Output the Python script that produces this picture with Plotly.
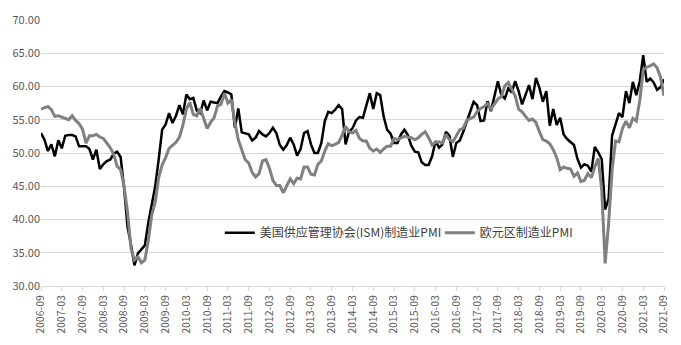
import pandas as pd
import plotly.graph_objects as go

# Monthly periods, 2006-09 .. 2021-09
months = [d.strftime("%Y-%m") for d in pd.date_range("2006-09-01", "2021-09-01", freq="MS")]
tick_labels = months[::6]

# ISM manufacturing PMI (US)
ism_pmi = [
    53.0, 52.0, 50.3, 51.3,
    49.5, 51.9, 50.7, 52.6, 52.7, 52.7, 52.5, 51.0, 51.0, 51.0, 50.6, 49.0,
    50.5, 47.6, 48.3, 48.8, 49.0, 49.9, 50.2, 49.4, 44.8, 38.9, 36.2, 33.1,
    34.9, 35.5, 36.1, 39.5, 42.5, 45.0, 49.0, 53.5, 54.3, 56.0, 54.5, 55.6,
    57.2, 55.8, 58.8, 58.1, 58.3, 56.4, 56.0, 57.9, 56.4, 57.7, 57.6, 57.5,
    58.5, 59.3, 59.1, 58.8, 53.8, 56.7, 53.1, 53.0, 52.8, 51.9, 52.3, 53.3,
    52.8, 52.5, 53.0, 53.8, 53.0, 51.2, 50.5, 51.2, 52.3, 51.3, 49.6, 50.6,
    53.0, 53.3, 51.3, 50.0, 50.0, 51.5, 54.8, 56.2, 56.0, 56.5, 57.2, 56.6,
    51.3, 53.2, 53.7, 54.9, 55.4, 55.3, 57.1, 59.0, 56.6, 59.0, 58.7, 55.5,
    53.5, 52.9, 51.5, 51.5, 52.8, 53.5, 52.7, 51.1, 50.2, 50.1, 48.6, 48.2,
    48.2, 49.5, 51.8, 50.8, 51.3, 53.2, 52.6, 49.4, 51.5, 51.9, 53.2, 54.7,
    56.0, 57.7, 57.2, 54.8, 54.9, 57.8, 56.3, 58.8, 60.8, 58.7, 58.2, 59.7,
    59.1, 60.8, 59.3, 57.3, 58.7, 60.2, 58.1, 61.3, 59.8, 57.7, 59.3, 54.1,
    56.6, 54.2, 55.3, 52.8, 52.1, 51.7, 51.2, 49.1, 47.8, 48.3, 48.1, 47.2,
    50.9, 50.1, 49.1, 41.5, 43.1, 52.6, 54.2, 56.0, 55.4, 59.3, 57.5, 60.7,
    58.7, 60.8, 64.7, 60.7, 61.2, 60.6, 59.5, 59.9, 61.1,
]

# Euro area manufacturing PMI
ez_pmi = [
    56.6, 56.8, 57.0, 56.5,
    55.5, 55.6, 55.4, 55.2, 55.0, 55.6, 54.9, 54.4, 53.6, 51.5, 52.6, 52.6,
    52.8, 52.4, 52.2, 51.5, 50.8, 49.8, 48.0, 47.5, 45.0, 41.1, 35.6, 33.9,
    34.4, 33.5, 33.9, 36.8, 40.7, 42.6, 46.3, 48.2, 49.3, 50.7, 51.2, 51.6,
    52.4, 54.2, 56.6, 57.6, 55.8, 55.6, 56.7, 55.1, 53.7, 54.6, 55.3, 57.1,
    57.3, 59.0, 57.5, 58.0, 54.6, 52.0, 50.4, 49.0, 48.5, 47.1, 46.4, 46.9,
    48.8, 49.0, 47.7, 45.9, 45.1, 45.1, 44.0, 45.1, 46.1, 45.4, 46.2, 46.1,
    47.9, 47.9, 46.8, 46.7, 48.3, 48.8, 50.3, 51.4, 51.1, 51.3, 51.6, 52.7,
    54.0, 53.2, 53.0, 53.4, 52.2, 51.8, 51.8, 50.7, 50.3, 50.6, 50.1, 50.6,
    51.0, 51.0, 52.2, 52.0, 52.2, 52.5, 52.4, 52.3, 52.0, 52.3, 52.8, 53.2,
    52.3, 51.2, 51.6, 51.7, 51.5, 52.8, 52.0, 51.7, 52.6, 53.5, 53.7, 54.9,
    55.2, 55.4, 56.2, 56.7, 57.0, 57.4, 56.6, 57.4, 58.1, 58.5, 60.1, 60.6,
    59.6, 58.6, 56.6, 56.2, 55.5, 54.9, 55.1, 54.6, 53.2, 52.0, 51.8, 51.4,
    50.5, 49.3, 47.5, 47.9, 47.7, 47.6, 46.5, 47.0, 45.7, 45.9, 46.9, 46.3,
    47.9, 49.2, 44.5, 33.4, 39.4, 47.4, 51.8, 51.7, 53.7, 54.8, 53.8, 55.2,
    54.8, 57.9, 62.5, 62.9, 63.1, 63.4, 62.8, 61.4, 58.6,
]

series_names = ["美国供应管理协会(ISM)制造业PMI", "欧元区制造业PMI"]

FONT = "Noto Sans CJK SC, Noto Sans, sans-serif"
TICK_COLOR = "#595959"
GRID = "#d9d9d9"

fig = go.Figure()
fig.add_trace(go.Scatter(
    x=months, y=ism_pmi, mode="lines", name=series_names[0],
    line=dict(color="#000000", width=2.5),
))
fig.add_trace(go.Scatter(
    x=months, y=ez_pmi, mode="lines", name=series_names[1],
    line=dict(color="#808080", width=3),
))

fig.update_layout(
    width=681, height=345,
    margin=dict(l=41, r=13, t=11, b=57),
    paper_bgcolor="white", plot_bgcolor="white",
    font=dict(family=FONT, color=TICK_COLOR),
    showlegend=True,
    legend=dict(
        orientation="h",
        x=0.287, xanchor="left",
        y=0.2, yanchor="middle",
        bgcolor="rgba(0,0,0,0)",
        font=dict(family=FONT, size=12, color="#404040"),
        itemwidth=30,
        entrywidth=175, entrywidthmode="pixels",
        tracegroupgap=0,
    ),
)

fig.update_xaxes(
    type="category",
    categoryorder="array", categoryarray=months,
    range=[0, len(months) - 1],
    tickmode="array", tickvals=tick_labels, ticktext=tick_labels,
    tickangle=-90,
    tickfont=dict(size=10.5, color=TICK_COLOR, family=FONT),
    showgrid=False,
    showline=True, linecolor=GRID, linewidth=1,
    ticks="outside", ticklen=4, tickcolor=GRID,
    zeroline=False,
)

fig.update_yaxes(
    range=[30, 70], dtick=5, tick0=30,
    tickformat=".2f",
    tickfont=dict(size=11, color=TICK_COLOR, family=FONT),
    showgrid=True, gridcolor=GRID, gridwidth=1,
    showline=False, zeroline=False,
    ticks="",
)

fig.write_html("out.html")
